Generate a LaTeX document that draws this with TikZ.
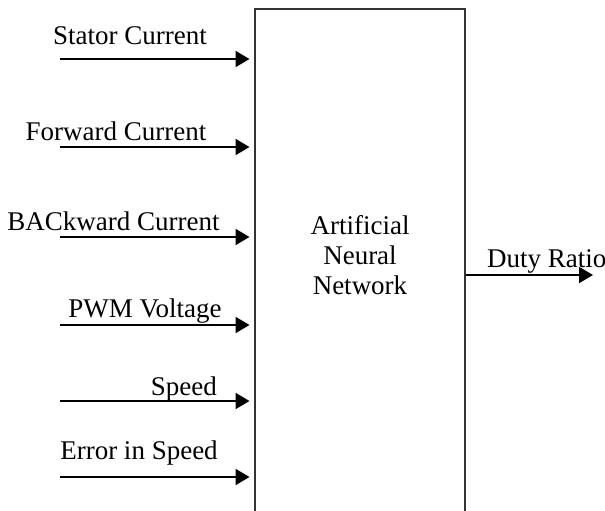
\documentclass[tikz,border=0pt]{standalone}
\usepackage{fontspec}
\setmainfont{Liberation Serif}
\usetikzlibrary{arrows.meta}
\begin{document}
\begin{tikzpicture}[x=1pt,y=-1pt,
  lbl/.style={inner sep=0pt,font=\fontsize{27}{30}\selectfont,text=black},
  arr/.style={line width=2pt,draw=black,-{Triangle[length=14pt,width=16pt]}},
  block/.style={draw=black!80,line width=2pt,minimum width=210pt,minimum height=532pt,inner sep=0pt}]
\useasboundingbox (0,0) rectangle (605,511);
\node[block] (ann) at (359.5,275) {};
\node[lbl,align=center] (annlbl) at (360,255) {Artificial\\Neural\\Network};
% inputs
\coordinate (s1) at (60,59);
\coordinate (s2) at (60,147);
\coordinate (s3) at (60,237);
\coordinate (s4) at (60,325);
\coordinate (s5) at (60,401);
\coordinate (s6) at (60,477);
\coordinate (out) at (593,275);
\foreach \i in {1,...,6}{
  \draw[arr,shorten >=4pt] (s\i) -- (s\i -| ann.west);
}
\draw[arr] (ann.east |- out) -- (out);
% labels
\node[lbl,anchor=base] (l1) at (130,45) {Stator Current};
\node[lbl,anchor=base] (l2) at (116,140) {Forward Current};
\node[lbl,anchor=base] (l3) at (113.5,230) {BACkward Current};
\node[lbl,anchor=base] (l4) at (145,317) {PWM Voltage};
\node[lbl,anchor=base east] (l5) at (217,395) {Speed};
\node[lbl,anchor=base] (l6) at (139,459) {Error in Speed};
\node[lbl,anchor=base west] (l7) at (487,267) {Duty Ratio};
\end{tikzpicture}
\end{document}
